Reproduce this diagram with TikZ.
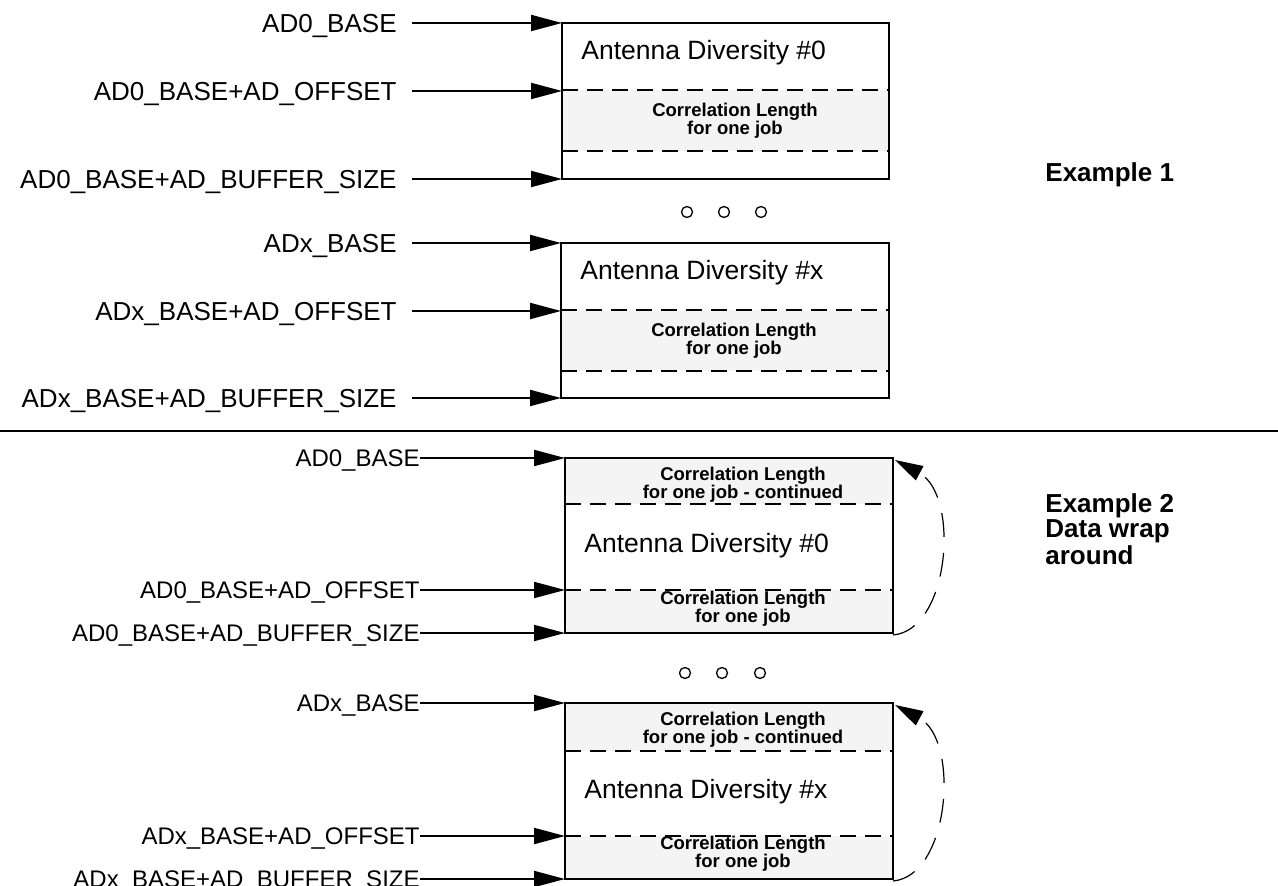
\documentclass[tikz,border=0pt]{standalone}
\usepackage{fontspec}
\setmainfont{Liberation Sans}
\usetikzlibrary{calc,arrows.meta}
\definecolor{figInk}{HTML}{000000}
\definecolor{figFill}{HTML}{F4F4F4}
\definecolor{figBg}{HTML}{FFFFFF}
\tikzset{
  ptr/.style={figInk,line width=1pt,-{Triangle[length=15.5pt,width=8pt]}},
  addr/.style={anchor=east,inner xsep=7.5pt,inner ysep=0pt,text=figInk,font=\fontsize{13}{13}\selectfont,text height=9.3pt,text depth=0pt},
  addrb/.style={addr,inner xsep=0pt,font=\fontsize{12}{12}\selectfont,text height=8.6pt},
  divider/.style={figInk,line width=1pt,dash pattern=on 8pt off 4.5pt},
  wrap/.style={figInk,line width=0.6pt,dash pattern=on 12pt off 8pt,-{Triangle[length=14pt,width=8pt]}},
  corr/.style={inner sep=0pt,align=center,text=figInk,font=\fontsize{9.25}{9}\selectfont\bfseries},
  region/.style={anchor=west,inner sep=0pt,text=figInk,font=\fontsize{13.25}{13.25}\selectfont},
  title/.style={anchor=west,inner sep=0pt,align=left,text=figInk,font=\fontsize{13}{11.5}\selectfont\bfseries},
}

\begin{document}
\begin{tikzpicture}[x=0.5pt,y=-0.5pt]
    \useasboundingbox[fill=figBg] (0,0) rectangle (1278,886);

    % ===== Example 1 =====
    % first buffer
    \fill[figFill] (562,90) rectangle (889,151);
    \draw[divider] (562,90) -- (889,90);
    \draw[divider] (562,151) -- (889,151);
    \draw[figInk,line width=1pt] (562,23) rectangle (889,179);
    \node[region] (e1ad0) at (581,53) {Antenna Diversity \#0};
    \node[corr] (e1cl0) at (735,121) {Correlation Length\\for one job};
    % entry points of the first buffer
    \coordinate (e1p0a) at (562,23);
    \coordinate (e1p0b) at (562,91);
    \coordinate (e1p0c) at (562,179);
    \node[addr] (e1l0a) at (412,23) {AD0\_BASE};
    \node[addr] (e1l0b) at (412,91) {AD0\_BASE+AD\_OFFSET};
    \node[addr] (e1l0c) at (412,179) {AD0\_BASE+AD\_BUFFER\_SIZE};
    \draw[ptr] (e1l0a.east) -- (e1p0a);
    \draw[ptr] (e1l0b.east) -- (e1p0b);
    \draw[ptr] (e1l0c.east) -- (e1p0c);
    % dots between the buffers
    \foreach \x in {687,724,761}
        \draw[figInk,line width=0.65pt] (\x,212) circle (2.75pt);
    % last buffer
    \fill[figFill] (561,310) rectangle (889,371);
    \draw[divider] (561,310) -- (889,310);
    \draw[divider] (561,371) -- (889,371);
    \draw[figInk,line width=1pt] (561,243) rectangle (889,398);
    \node[region] (e1adx) at (580,273) {Antenna Diversity \#x};
    \node[corr] (e1clx) at (734,341) {Correlation Length\\for one job};
    \coordinate (e1pxa) at (561,243);
    \coordinate (e1pxb) at (561,311);
    \coordinate (e1pxc) at (561,398);
    \node[addr] (e1lxa) at (412,243) {ADx\_BASE};
    \node[addr] (e1lxb) at (412,311) {ADx\_BASE+AD\_OFFSET};
    \node[addr] (e1lxc) at (412,398) {ADx\_BASE+AD\_BUFFER\_SIZE};
    \draw[ptr] (e1lxa.east) -- (e1pxa);
    \draw[ptr] (e1lxb.east) -- (e1pxb);
    \draw[ptr] (e1lxc.east) -- (e1pxc);
    \node[title] (ex1) at (1045,175) {Example 1};

    % separator
    \draw[figInk,line width=1.3pt] (0,431) -- (1278,431);

    % ===== Example 2: data wrap around =====
    % first buffer
    \fill[figFill] (565,458) rectangle (893,504);
    \fill[figFill] (565,590) rectangle (893,633);
    \draw[divider] (565,504) -- (893,504);
    \draw[divider] (565,590) -- (893,590);
    \draw[figInk,line width=1pt] (565,458) rectangle (893,633);
    \node[corr] (e2ct0) at (743,485) {Correlation Length\\for one job - continued};
    \node[region] (e2ad0) at (584,546) {Antenna Diversity \#0};
    \node[corr] (e2cl0) at (743,609) {Correlation Length\\for one job};
    \coordinate (e2p0a) at (565,458);
    \coordinate (e2p0b) at (565,590);
    \coordinate (e2p0c) at (565,633);
    \node[addrb] (e2l0a) at (420,458) {AD0\_BASE};
    \node[addrb] (e2l0b) at (420,590) {AD0\_BASE+AD\_OFFSET};
    \node[addrb] (e2l0c) at (420,633) {AD0\_BASE+AD\_BUFFER\_SIZE};
    \draw[ptr] (e2l0a.east) -- (e2p0a);
    \draw[ptr] (e2l0b.east) -- (e2p0b);
    \draw[ptr] (e2l0c.east) -- (e2p0c);
    % wrap from the end back to the base
    \coordinate (e2w0s) at (893,635);
    \coordinate (e2w0e) at (895,460);
    \draw[wrap] (e2w0s) .. controls (950,630) and (960,495) .. (e2w0e);
    % dots between the buffers
    \foreach \x in {685,722,760}
        \draw[figInk,line width=0.65pt] (\x,673) circle (2.75pt);
    % last buffer
    \fill[figFill] (565,703) rectangle (893,751);
    \fill[figFill] (565,836) rectangle (893,879);
    \draw[divider] (565,751) -- (893,751);
    \draw[divider] (565,836) -- (893,836);
    \draw[figInk,line width=1pt] (565,703) rectangle (893,879);
    \node[corr] (e2ctx) at (743,730) {Correlation Length\\for one job - continued};
    \node[region] (e2adx) at (584,792) {Antenna Diversity \#x};
    \node[corr] (e2clx) at (743,854) {Correlation Length\\for one job};
    \coordinate (e2pxa) at (565,703);
    \coordinate (e2pxb) at (565,836);
    \coordinate (e2pxc) at (565,879);
    \node[addrb] (e2lxa) at (420,703) {ADx\_BASE};
    \node[addrb] (e2lxb) at (420,836) {ADx\_BASE+AD\_OFFSET};
    \node[addrb] (e2lxc) at (420,879) {ADx\_BASE+AD\_BUFFER\_SIZE};
    \draw[ptr] (e2lxa.east) -- (e2pxa);
    \draw[ptr] (e2lxb.east) -- (e2pxb);
    \draw[ptr] (e2lxc.east) -- (e2pxc);
    \coordinate (e2wxs) at (893,881);
    \coordinate (e2wxe) at (895,705);
    \draw[wrap] (e2wxs) .. controls (950,876) and (960,740) .. (e2wxe);
    \node[title] (ex2) at (1045,529) {Example 2\\Data wrap\\around};
\end{tikzpicture}
\end{document}
